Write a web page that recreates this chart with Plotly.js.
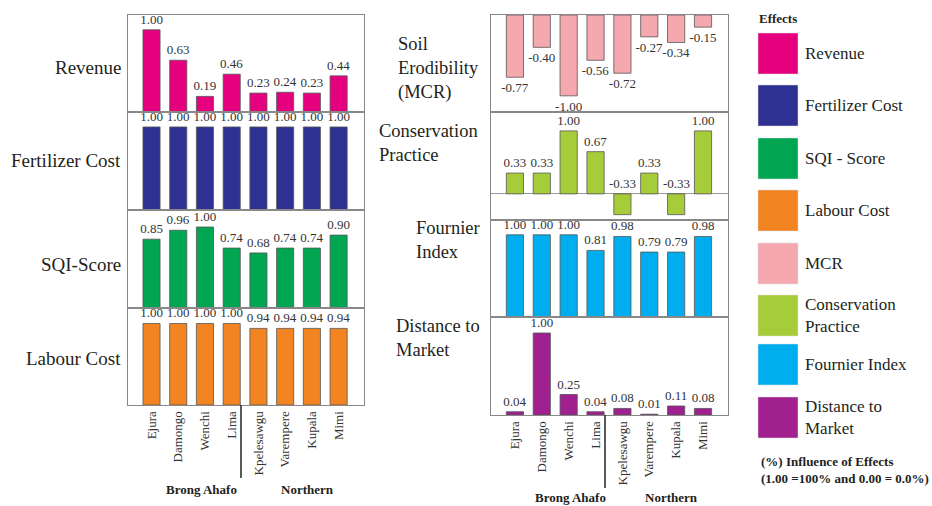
<!DOCTYPE html>
<html>
<head>
<meta charset="utf-8">
<script src="https://cdn.plot.ly/plotly-3.0.1.min.js"></script>
<style>html,body{margin:0;padding:0;background:#fff;}#chart{width:932px;height:506px;}</style>
</head>
<body>
<div id="chart"></div>
<script>
// ---- data ----
const sites = ['Ejura','Damongo','Wenchi','Lima','Kpelesawgu','Varempere','Kupala','Mimi'];
const revenue      = [1.00, 0.63, 0.19, 0.46, 0.23, 0.24, 0.23, 0.44];
const fertilizer   = [1.00, 1.00, 1.00, 1.00, 1.00, 1.00, 1.00, 1.00];
const sqiScore     = [0.85, 0.96, 1.00, 0.74, 0.68, 0.74, 0.74, 0.90];
const labourCost   = [1.00, 1.00, 1.00, 1.00, 0.94, 0.94, 0.94, 0.94];
const mcr          = [-0.77, -0.40, -1.00, -0.56, -0.72, -0.27, -0.34, -0.15];
const conservation = [0.33, 0.33, 1.00, 0.67, -0.33, 0.33, -0.33, 1.00];
const fournier     = [1.00, 1.00, 1.00, 0.81, 0.98, 0.79, 0.79, 0.98];
const distance     = [0.04, 1.00, 0.25, 0.04, 0.08, 0.01, 0.11, 0.08];

const effectNames  = ['Revenue','Fertilizer Cost','SQI - Score','Labour Cost','MCR','Conservation<br>Practice','Fournier Index','Distance to<br>Market'];
const effectColors = ['#E5007D','#2E3192','#00A651','#F28522','#F5A8AE','#A6CD39','#00AEEF','#A0208F'];
const groups = ['Brong Ahafo','Northern'];

// ---- layout helpers ----
const W = 932, H = 506;
const px = v => v / W;
const py = v => 1 - v / H;
const SERIF = '"Liberation Serif", "Times New Roman", serif';
const TXT = '#231F20';

const series = [revenue, fertilizer, sqiScore, labourCost, mcr, conservation, fournier, distance];
const yRanges = [[0,1.18],[0,1.18],[0,1.21],[0,1.19],[-1.2,0],[-0.415,1.30],[0,1.18],[0,1.195]];
const rowsPx = [[15,112],[112,210],[210,308],[308,405],[15,112],[112,220],[220,317],[317,415]];
const leftX = [128,364], rightX = [491,728];
const xRangeL = [-0.88, 7.95], xRangeR = [-0.89, 7.93];
const valueFont = {family: SERIF, size: 13, color: '#333'};

const data = [];
const layout = {
  width: W, height: H,
  margin: {l:0,r:0,t:0,b:0},
  paper_bgcolor: '#fff', plot_bgcolor: '#fff',
  showlegend: false,
  bargap: 0.36,
  font: {family: SERIF, color: TXT},
  annotations: [], shapes: []
};

series.forEach((vals, i) => {
  const n = i + 1;
  const left = i < 4;
  const isCons = (i === 5);
  // conservation practice: negative values are labelled above the zero line
  const positions = vals.map(v => (isCons && v < 0) ? 'none' : 'outside');
  data.push({
    type: 'bar', x: sites, y: vals,
    xaxis: 'x' + n, yaxis: 'y' + n,
    marker: {color: effectColors[i], line: {color: '#555', width: 0.8}},
    texttemplate: '%{y:.2f}', textposition: positions, constraintext: 'none',
    cliponaxis: false,
    textfont: valueFont,
    hoverinfo: 'x+y'
  });
  if (isCons) {
    vals.forEach((v, k) => {
      if (v < 0) layout.annotations.push({
        xref: 'x' + n, yref: 'y' + n, x: sites[k], y: 0, yanchor: 'bottom', xanchor: 'center',
        yshift: 1, text: v.toFixed(2), showarrow: false, font: valueFont
      });
    });
  }
  const bottom = (i === 3 || i === 7);
  const xd = left ? leftX : rightX;
  layout['xaxis' + n] = {
    domain: [px(xd[0]), px(xd[1])], anchor: 'y' + n,
    type: 'category', range: left ? xRangeL : xRangeR,
    showline: true, mirror: true, linecolor: '#888', linewidth: 1,
    showgrid: false, zeroline: false, ticks: '',
    showticklabels: bottom, tickangle: -90,
    tickfont: {family: SERIF, size: 13, color: '#333'},
    automargin: false, fixedrange: true
  };
  const r = rowsPx[i];
  layout['yaxis' + n] = {
    domain: [py(r[1]), py(r[0])], anchor: 'x' + n,
    range: yRanges[i],
    showline: true, mirror: true, linecolor: '#888', linewidth: 1,
    showgrid: false, zeroline: isCons, zerolinecolor: '#999', zerolinewidth: 1,
    showticklabels: false, ticks: '', automargin: false, fixedrange: true
  };
});

// row labels
const leftLabels = [['Revenue',67],['Fertilizer Cost',161],['SQI-Score',264],['Labour Cost',358]];
leftLabels.forEach(([t, y]) => layout.annotations.push({
  xref:'paper', yref:'paper', x: px(123), y: py(y), xanchor:'right', yanchor:'middle',
  text: t, showarrow:false, font:{family:SERIF, size:19, color:TXT}
}));
const rightLabels = [['Soil<br>Erodibility<br>(MCR)',396,68],['Conservation<br>Practice',377,143],['Fournier<br>Index',414,240],['Distance to<br>Market',394,338]];
rightLabels.forEach(([t, x, y]) => layout.annotations.push({
  xref:'paper', yref:'paper', x: px(x), y: py(y), xanchor:'left', yanchor:'middle', align:'left',
  text: t, showarrow:false, font:{family:SERIF, size:18.5, color:TXT}
}));

// group labels and dividers
[[201,489],[307,489]].forEach(([x,y],k) => layout.annotations.push({
  xref:'paper', yref:'paper', x:px(x), y:py(y), xanchor:'center', yanchor:'middle',
  text:'<b>'+groups[k]+'</b>', showarrow:false, font:{family:SERIF, size:13, color:TXT}
}));
[[570,497],[671,497]].forEach(([x,y],k) => layout.annotations.push({
  xref:'paper', yref:'paper', x:px(x), y:py(y), xanchor:'center', yanchor:'middle',
  text:'<b>'+groups[k]+'</b>', showarrow:false, font:{family:SERIF, size:13, color:TXT}
}));
layout.shapes.push({type:'line', xref:'paper', yref:'paper', x0:px(241), x1:px(241), y0:py(405), y1:py(478), line:{color:'#222', width:1.5}});
layout.shapes.push({type:'line', xref:'paper', yref:'paper', x0:px(605), x1:px(605), y0:py(415), y1:py(488), line:{color:'#222', width:1.5}});

// legend
layout.annotations.push({xref:'paper', yref:'paper', x:px(757), y:py(18), xanchor:'left', yanchor:'middle',
  text:'<b>Effects</b>', showarrow:false, font:{family:SERIF, size:13, color:TXT}});
const boxTops = [33,85,138,190,243,295,344,397];
effectNames.forEach((name, k) => {
  const t = boxTops[k];
  layout.shapes.push({type:'rect', xref:'paper', yref:'paper', x0:px(758), x1:px(798), y0:py(t+41), y1:py(t),
    fillcolor: effectColors[k], line:{color:'#ddd', width:0.5}});
  layout.annotations.push({xref:'paper', yref:'paper', x:px(803), y:py(t+20.5), xanchor:'left', yanchor:'middle', align:'left',
    text:name, showarrow:false, font:{family:SERIF, size:17, color:TXT}});
});
layout.annotations.push({xref:'paper', yref:'paper', x:px(759), y:py(470), xanchor:'left', yanchor:'middle', align:'left',
  text:'<b>(%) Influence of Effects<br>(1.00 =100% and 0.00 = 0.0%)</b>', showarrow:false, font:{family:SERIF, size:13, color:TXT}});

Plotly.newPlot('chart', data, layout, {displayModeBar:false, staticPlot:true});
</script>
</body>
</html>
